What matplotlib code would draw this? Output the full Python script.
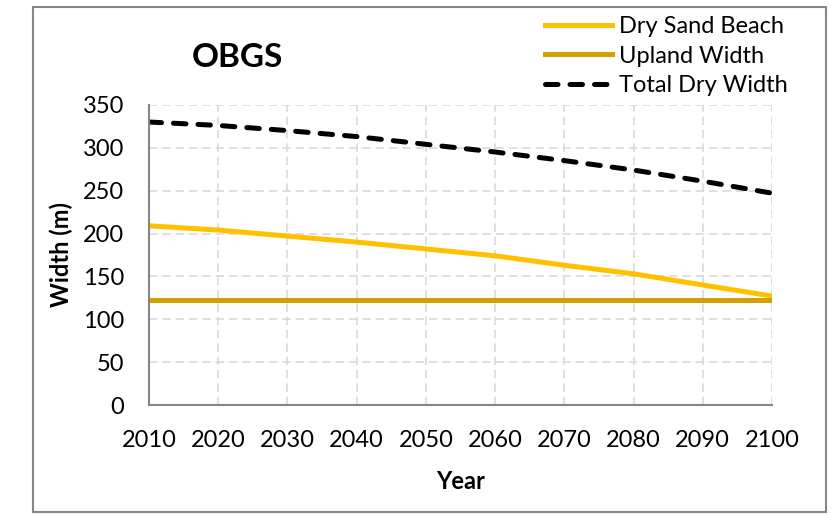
import matplotlib.pyplot as plt
from matplotlib.patches import Rectangle

plt.rcParams['font.family'] = ['Lato', 'DejaVu Sans']

years = [2010, 2020, 2030, 2040, 2050, 2060, 2070, 2080, 2090, 2100]
dry_sand = [209, 204, 197, 190, 182, 174, 163, 153, 140, 127]
upland = [122, 122, 122, 122, 122, 122, 122, 122, 122, 122]
total_dry = [330, 326, 320, 313, 304, 295, 285, 274, 261, 247]

fig = plt.figure(figsize=(8.31, 5.14), dpi=100)
ax = fig.add_axes([0.1793, 0.212, 0.7497, 0.584])

ax.plot(years, dry_sand, color='#FFC000', lw=3.6, label='Dry Sand Beach')
ax.plot(years, upland, color='#D4A00A', lw=3.6, label='Upland Width')
ax.plot(years, total_dry, color='black', lw=3.6, ls=(0, (2.5, 2.4)),
        dash_capstyle='round', label='Total Dry Width')

ax.set_xlim(2010, 2100)
ax.set_ylim(0, 350)
ax.set_xticks(years)
ax.set_yticks(range(0, 351, 50))
ax.grid(True, color='#D9D9D9', ls=(0, (5, 3)), lw=1.2)
ax.set_axisbelow(True)
ax.tick_params(length=0, labelsize=17, colors='black')
ax.tick_params(axis='x', pad=18)
ax.tick_params(axis='y', pad=18)
for s in ['top', 'right']:
    ax.spines[s].set_visible(False)
for s in ['left', 'bottom']:
    ax.spines[s].set_color('#868686')
    ax.spines[s].set_linewidth(1.5)

ax.set_xlabel('Year', fontsize=17, fontweight='bold', labelpad=14)
ax.set_ylabel('Width (m)', fontsize=17, fontweight='bold', labelpad=7)

fig.text(0.286, 0.888, 'OBGS', fontsize=24, fontweight='bold', ha='center', va='center')

fig.legend(loc='upper left', bbox_to_anchor=(545 / 831, 0.968), frameon=False,
           fontsize=17, handlelength=2.85, labelspacing=0.35, handletextpad=0.3,
           borderpad=0, borderaxespad=0)

fig.patches.append(Rectangle((0.0397, 0.003), 0.954, 0.984, transform=fig.transFigure,
                             fill=False, edgecolor='#868686', lw=1.5))

fig.savefig('out.png', dpi=100)
